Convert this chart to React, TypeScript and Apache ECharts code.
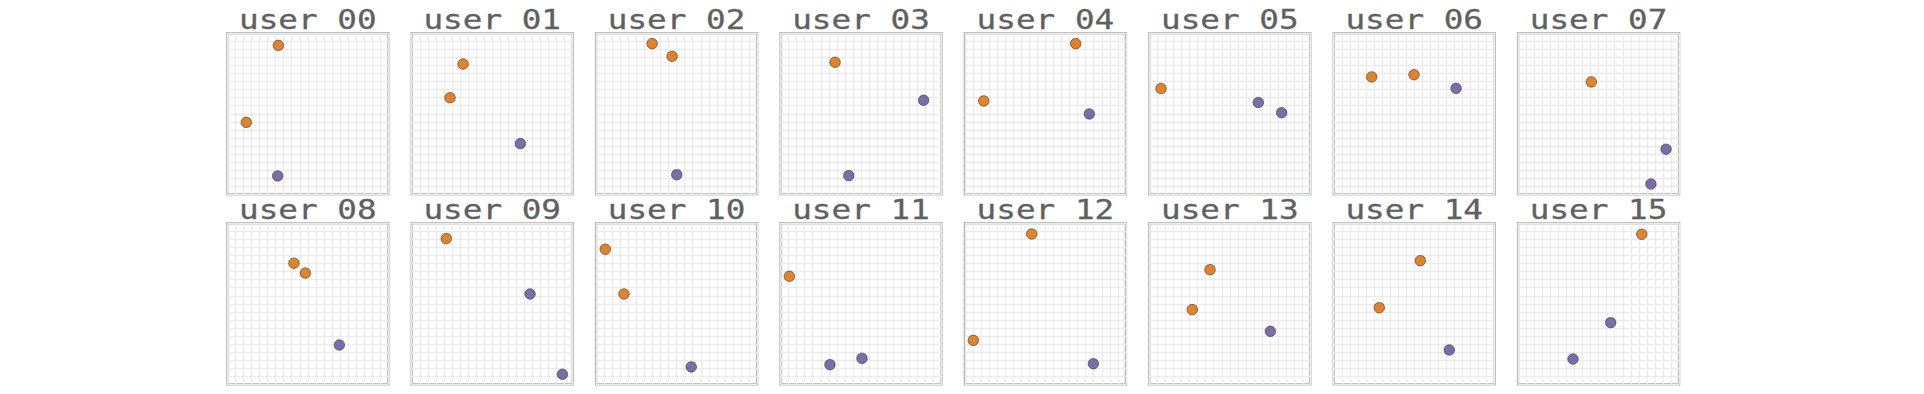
import React, { useEffect, useRef } from "react";
import * as echarts from "echarts";

const users = [
  "user 00", "user 01", "user 02", "user 03", "user 04", "user 05", "user 06", "user 07",
  "user 08", "user 09", "user 10", "user 11", "user 12", "user 13", "user 14", "user 15",
];

// [x, y] positions, domain 0..1
const orangePoints: number[][][] = [
  [[0.317, 0.925], [0.118, 0.447]],
  [[0.319, 0.809], [0.238, 0.6]],
  [[0.348, 0.936], [0.472, 0.857]],
  [[0.339, 0.82]],
  [[0.688, 0.936], [0.117, 0.58]],
  [[0.073, 0.657]],
  [[0.236, 0.729], [0.499, 0.743]],
  [[0.455, 0.698]],
  [[0.414, 0.752], [0.485, 0.691]],
  [[0.215, 0.905]],
  [[0.057, 0.839], [0.173, 0.561]],
  [[0.055, 0.671]],
  [[0.415, 0.934], [0.052, 0.273]],
  [[0.377, 0.712], [0.267, 0.464]],
  [[0.538, 0.768], [0.283, 0.476]],
  [[0.768, 0.932]],
];

const purplePoints: number[][][] = [
  [[0.313, 0.114]],
  [[0.675, 0.315]],
  [[0.501, 0.122]],
  [[0.889, 0.584], [0.424, 0.116]],
  [[0.773, 0.499]],
  [[0.677, 0.57], [0.822, 0.507]],
  [[0.76, 0.658]],
  [[0.919, 0.28], [0.825, 0.064]],
  [[0.696, 0.244]],
  [[0.735, 0.561], [0.936, 0.062]],
  [[0.591, 0.108]],
  [[0.307, 0.122], [0.506, 0.161]],
  [[0.798, 0.128]],
  [[0.752, 0.329]],
  [[0.718, 0.213]],
  [[0.575, 0.383], [0.341, 0.157]],
];

const ORANGE = "#e0832a";
const PURPLE = "#7d6cab";

export default function App() {
  const ref = useRef<HTMLDivElement>(null);
  useEffect(() => {
    if (!ref.current) return;
    const chart = echarts.init(ref.current, undefined, { renderer: "svg" });
    const cols = 8;
    const left0 = 227.3;
    const dx = 184.4;
    const tops = [33.3, 223.3];
    const size = 161;
    const grids: any[] = [];
    const xAxes: any[] = [];
    const yAxes: any[] = [];
    const series: any[] = [];
    const graphics: any[] = [];
    const axisCommon = {
      type: "value",
      min: 0,
      max: 1,
      interval: 0.05,
      axisLine: { show: false },
      axisTick: { show: false },
      axisLabel: { show: false },
      splitLine: { show: true, lineStyle: { color: "#ebebeb", width: 1.3 } },
    };
    users.forEach((u, i) => {
      const col = i % cols;
      const row = Math.floor(i / cols);
      const left = left0 + col * dx;
      const top = tops[row];
      grids.push({
        left,
        top,
        width: size,
        height: size,
        show: true,
        borderColor: "#b4b4b4",
        borderWidth: 2.4,
        backgroundColor: "#fff",
      });
      xAxes.push({ ...axisCommon, gridIndex: i });
      yAxes.push({ ...axisCommon, gridIndex: i });
      const markerStyle = (c: string) => ({
        color: c,
        borderColor: "rgba(40,30,20,0.75)",
        borderWidth: 0.7,
        opacity: 1,
      });
      series.push({
        type: "scatter",
        xAxisIndex: i,
        yAxisIndex: i,
        data: orangePoints[i],
        symbolSize: 10.5,
        itemStyle: markerStyle(ORANGE),
        silent: true,
      });
      series.push({
        type: "scatter",
        xAxisIndex: i,
        yAxisIndex: i,
        data: purplePoints[i],
        symbolSize: 10.5,
        itemStyle: markerStyle(PURPLE),
        silent: true,
      });
      graphics.push({
        type: "text",
        x: left + size / 2,
        y: top - 13.6,
        scaleX: 1.21,
        silent: true,
        style: {
          text: u,
          font: '27px "DejaVu Sans Mono", monospace',
          fill: "#606060",
          stroke: "#606060",
          lineWidth: 0.3,
          textAlign: "center",
          textVerticalAlign: "middle",
        },
      });
    });
    chart.setOption({
      animation: false,
      backgroundColor: "#ffffff",
      grid: grids,
      xAxis: xAxes,
      yAxis: yAxes,
      series,
      graphic: graphics,
    });
    return () => chart.dispose();
  }, []);
  return (
    <div
      ref={ref}
      style={{ position: "fixed", left: 0, top: 0, width: 1924, height: 394 }}
    />
  );
}
